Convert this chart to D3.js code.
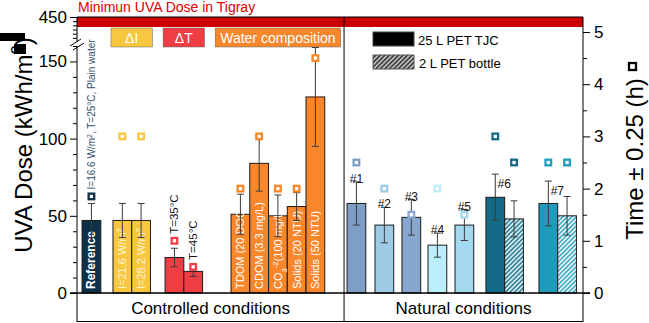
<!DOCTYPE html>
<html>
<head>
<meta charset="utf-8">
<script src="https://cdn.jsdelivr.net/npm/d3@7"></script>
<style>
  body { margin: 0; background: #fff; }
  svg { display: block; font-family: "Liberation Sans", Arial, sans-serif; }
</style>
</head>
<body>
<div id="chart"></div>
<script>
// ---- data ----
const categories = ["Reference", "I=21.6", "I=28.2", "T=35", "T=45", "TDOM", "CDOM", "CO3", "Solids20", "Solids50",
                    "#1", "#2", "#3", "#4", "#5", "#6 TJC", "#6 bottle", "#7 TJC", "#7 bottle"];
const groupOf = ["ref", "dI", "dI", "dT", "dT", "water", "water", "water", "water", "water",
                 "n1", "n2", "n3", "n4", "n5", "n6", "n6", "n7", "n7"];
const doseValues = [47, 47, 47, 23, 14, 51, 84, 50, 56, 127, 58, 44, 49, 31, 44, 62, 48, 58, 50];
const doseErrors = [11, 11, 11, 6, 3.3, 13, 18, 13.5, 9, 32, 14, 11.5, 11.5, 7.8, 10, 15, 11.7, 14.5, 12.5];
const timeValues = [1.85, 3, 3, 1, 0.5, 2, 3, 2, 2, 4.5, 2.5, 2, 1.5, 2, 1.5, 3, 2.5, 2.5, 2.5];
const containerType = ["tjc", "tjc", "tjc", "tjc", "tjc", "tjc", "tjc", "tjc", "tjc", "tjc",
                       "tjc", "tjc", "tjc", "tjc", "tjc", "tjc", "bottle", "tjc", "bottle"];
const doseTicks = [0, 50, 100, 150];
const doseTicksTop = [450];
const timeTicks = [0, 1, 2, 3, 4, 5];
const tigrayMinDose = [426, 450];
const groupHeaders = [["dI", "ΔI"], ["dT", "ΔT"], ["water", "Water composition"]];
const siteLabels = [["n1", "#1"], ["n2", "#2"], ["n3", "#3"], ["n4", "#4"], ["n5", "#5"], ["n6", "#6"], ["n7", "#7"]];

// ---- layout / styles ----
const W = 649, H = 323;
const plotL = 77, plotR = 583, plotT = 17, zeroY = 293, plotB = 322;
const groupGap = { ref: 0.27, dI: 0.65, dT: 0.78, water: 1.52, n1: 1.19, n2: 0.49, n3: 0.44, n4: 0.39, n5: 0.44, n6: 0.65, n7: 0.83 };
const dividerAt = 14.25;
const barColors = ["#0e3048", "#f8c73f", "#f8c73f", "#ef3d44", "#ef3d44", "#f8862b", "#f8862b", "#f8862b", "#f8862b", "#f8862b",
                   "#7d9fc6", "#9dcbe6", "#88a7d0", "#baeefb", "#a3d8ef", "#136a86", "#136a86", "#1f9cbd", "#1f9cbd"];
const headerColors = { dI: "#f8c73f", dT: "#ef3d44", water: "#f8862b" };

// bar position in "bar units"
const pos = [];
let cur = 0, prev = null;
categories.forEach((c, i) => {
  if (groupOf[i] !== prev) { cur += groupGap[groupOf[i]]; prev = groupOf[i]; }
  pos.push(cur);
  cur += 1;
});

const x = d3.scaleLinear().domain([0, 27]).range([plotL, plotR]);
const bw = x(1) - x(0);
const yLow = d3.scaleLinear().domain([0, 160]).range([zeroY, 46]);
const yHigh = d3.scaleLinear().domain([390, 450]).range([42, plotT]);
const yTime = d3.scaleLinear().domain([0, 5]).range([zeroY, 32]);

const svg = d3.select("#chart").append("svg").attr("width", W).attr("height", H);
const defs = svg.append("defs");

function hatch(id, bg, fg) {
  const p = defs.append("pattern").attr("id", id).attr("patternUnits", "userSpaceOnUse")
    .attr("width", 3.2).attr("height", 3.2).attr("patternTransform", "rotate(45)");
  p.append("rect").attr("width", 3.2).attr("height", 3.2).attr("fill", bg);
  p.append("line").attr("x1", 0.8).attr("x2", 0.8).attr("y1", 0).attr("y2", 3.2).attr("stroke", fg).attr("stroke-width", 1.3);
}
hatch("h6", "#d7ebf2", "#136a86");
hatch("h7", "#e6f6fb", "#1f9cbd");
hatch("hl", "#bbbbbb", "#222222");

function fillOf(i) {
  if (containerType[i] === "bottle") return groupOf[i] === "n6" ? "url(#h6)" : "url(#h7)";
  return barColors[i];
}

// red band (minimum dose in Tigray)
svg.append("rect")
  .attr("x", plotL).attr("width", plotR - plotL)
  .attr("y", yHigh(tigrayMinDose[1])).attr("height", yHigh(tigrayMinDose[0]) - yHigh(tigrayMinDose[1]))
  .attr("fill", "#cc0000");
svg.append("text").attr("x", plotL + 1).attr("y", 12).attr("font-size", 14).attr("fill", "#dd0000")
  .text("Minimun UVA Dose in Tigray");

// group header boxes
groupHeaders.forEach(([g, label]) => {
  const idx = d3.range(categories.length).filter(i => groupOf[i] === g);
  const x0 = x(pos[idx[0]]), x1 = x(pos[idx[idx.length - 1]] + 1);
  const t = svg.append("text").attr("font-size", 14).attr("fill", "#fff").attr("text-anchor", "middle")
    .attr("x", (x0 + x1) / 2).attr("y", 43).text(label);
  const tw = t.node().getComputedTextLength();
  const w = Math.max(x1 - x0 + 4, tw + 10);
  svg.insert("rect", "text:last-of-type")
    .attr("x", (x0 + x1) / 2 - w / 2).attr("width", w).attr("y", 28).attr("height", 19)
    .attr("fill", headerColors[g]).attr("stroke", "#666").attr("stroke-width", 0.5);
  t.raise();
});

// bars
svg.append("g").selectAll("rect").data(categories).join("rect")
  .attr("x", (d, i) => x(pos[i])).attr("width", bw)
  .attr("y", (d, i) => yLow(doseValues[i])).attr("height", (d, i) => zeroY - yLow(doseValues[i]))
  .attr("fill", (d, i) => fillOf(i)).attr("stroke", "#1a1a1a").attr("stroke-width", 1);

// labels inside bars
const inner = [
  [0, [["Reference"]], "#fff", "bold", 12],
  [1, [["I=21.6 W/m"], ["2", "sup"]], "#fff6d6", "normal", 11],
  [2, [["I=28.2 W/m"], ["2", "sup"]], "#fff6d6", "normal", 11],
  [5, [["TDOM (20 DOC)"]], "#fff", "normal", 11],
  [6, [["CDOM (3.3 mg/L)"]], "#fff", "normal", 11],
  [7, [["CO"], ["3", "sub"], ["-2", "sup"], ["(100 mg/L)"]], "#fff", "normal", 11],
  [8, [["Solids (20 NTU)"]], "#fff", "normal", 11],
  [9, [["Solids (50 NTU)"]], "#fff", "normal", 11]
];
function richText(sel, parts) {
  parts.forEach(([t, kind]) => {
    const ts = sel.append("tspan").text(t);
    if (kind === "sup") ts.attr("baseline-shift", "super").attr("font-size", "70%");
    if (kind === "sub") ts.attr("baseline-shift", "sub").attr("font-size", "70%");
  });
}
inner.forEach(([i, parts, col, fw, fs]) => {
  const cx = x(pos[i]) + bw / 2 + 4;
  const t = svg.append("text").attr("transform", `translate(${cx},${zeroY - 4}) rotate(-90)`)
    .attr("fill", col).attr("font-weight", fw).attr("font-size", fs);
  richText(t, parts);
});

// error bars
const eb = svg.append("g").attr("stroke", "#3a3a3a").attr("stroke-width", 1);
categories.forEach((c, i) => {
  const cx = x(pos[i]) + bw / 2;
  const y0 = yLow(doseValues[i] - doseErrors[i]), y1 = yLow(doseValues[i] + doseErrors[i]);
  eb.append("line").attr("x1", cx).attr("x2", cx).attr("y1", y0).attr("y2", y1);
  eb.append("line").attr("x1", cx - 3.5).attr("x2", cx + 3.5).attr("y1", y0).attr("y2", y0);
  eb.append("line").attr("x1", cx - 3.5).attr("x2", cx + 3.5).attr("y1", y1).attr("y2", y1);
});

// time markers (right axis)
svg.append("g").selectAll("rect").data(categories).join("rect")
  .attr("x", (d, i) => x(pos[i]) + bw / 2 - 2.8).attr("y", (d, i) => yTime(timeValues[i]) - 2.8)
  .attr("width", 5.6).attr("height", 5.6)
  .attr("fill", "#fff").attr("stroke", (d, i) => barColors[i]).attr("stroke-width", 2.3);

// rotated annotations
function rotText(i, col, fs, shift) {
  const cx = x(pos[i]) + bw / 2 + 4;
  return svg.append("text").attr("transform", `translate(${cx},${yTime(timeValues[i]) - shift}) rotate(-90)`)
    .attr("fill", col).attr("font-size", fs);
}
richText(rotText(0, "#34506c", 10, 7), [["I=16.6 W/m"], ["2", "sup"], [", T=25°C, Plain water"]]);
rotText(3, "#111", 11.5, 7).text("T=35°C");
rotText(4, "#111", 11.5, 7).text("T=45°C");

// site labels
siteLabels.forEach(([g, label]) => {
  const idx = d3.range(categories.length).filter(i => groupOf[i] === g);
  const i = idx[0];
  const twin = idx.length > 1;
  const cx = x(pos[i]) + bw / 2 + (twin ? 9 : 0);
  const ty = yLow(doseValues[i] + doseErrors[i]) + (twin ? 14 : 1);
  svg.append("text").attr("x", cx).attr("y", ty).attr("text-anchor", "middle")
    .attr("font-size", 12).attr("fill", "#111").text(label);
});

// frame
const fr = svg.append("g").attr("stroke", "#000").attr("fill", "none");
fr.append("line").attr("x1", plotL).attr("x2", plotR).attr("y1", plotT).attr("y2", plotT);
fr.append("line").attr("x1", plotR).attr("x2", plotR).attr("y1", plotT).attr("y2", plotB);
fr.append("line").attr("x1", plotL).attr("x2", plotL).attr("y1", plotT).attr("y2", 42);
fr.append("line").attr("x1", plotL).attr("x2", plotL).attr("y1", 46).attr("y2", plotB);
fr.append("line").attr("x1", plotL).attr("x2", plotR).attr("y1", plotB - 0.5).attr("y2", plotB - 0.5);
fr.append("line").attr("x1", x(dividerAt)).attr("x2", x(dividerAt)).attr("y1", plotT).attr("y2", plotB);
fr.append("line").attr("x1", plotL - 7).attr("x2", plotR + 7).attr("y1", zeroY).attr("y2", zeroY).attr("stroke-width", 1.6);
// axis break
fr.append("line").attr("x1", 70).attr("x2", 81).attr("y1", 46).attr("y2", 39);
fr.append("line").attr("x1", 73).attr("x2", 84).attr("y1", 50).attr("y2", 43);

// axes
function styleAxis(g) {
  g.select(".domain").remove();
  g.selectAll("text").attr("font-size", 17).attr("fill", "#000").attr("font-family", "Liberation Sans, Arial, sans-serif");
  g.selectAll("line").attr("stroke", "#000");
}
svg.append("g").attr("transform", `translate(${plotL},0)`)
  .call(d3.axisLeft(yLow).tickValues(doseTicks).tickSize(7).tickPadding(3)).call(styleAxis);
svg.append("g").attr("transform", `translate(${plotL},0)`)
  .call(d3.axisLeft(yLow).tickValues(d3.range(10, 161, 10).filter(v => v % 50)).tickSize(4).tickFormat("")).call(styleAxis);
svg.append("g").attr("transform", `translate(${plotL},0)`)
  .call(d3.axisLeft(yHigh).tickValues(doseTicksTop).tickSize(7).tickPadding(3)).call(styleAxis);
svg.append("g").attr("transform", `translate(${plotL},0)`)
  .call(d3.axisLeft(yHigh).tickValues(d3.range(400, 441, 10)).tickSize(4).tickFormat("")).call(styleAxis);
svg.append("g").attr("transform", `translate(${plotR},0)`)
  .call(d3.axisRight(yTime).tickValues(timeTicks).tickSize(7).tickPadding(4).tickFormat(d3.format("d"))).call(styleAxis);
svg.append("g").attr("transform", `translate(${plotR},0)`)
  .call(d3.axisRight(yTime).tickValues(d3.range(0.5, 5, 1)).tickSize(4).tickFormat("")).call(styleAxis);

// axis titles
const lt = svg.append("text").attr("transform", "translate(32,145) rotate(-90)")
  .attr("text-anchor", "middle").attr("font-size", 24).attr("fill", "#000");
richText(lt, [["UVA Dose (kWh/m"], ["2", "sup"], [")"]]);
svg.append("rect").attr("x", 0).attr("y", 33).attr("width", 25).attr("height", 8).attr("fill", "#000");
svg.append("rect").attr("x", 14).attr("y", 44).attr("width", 12).attr("height", 10).attr("fill", "#000");

svg.append("text").attr("transform", "translate(643,159) rotate(-90)")
  .attr("text-anchor", "middle").attr("font-size", 24).attr("fill", "#000").text("Time ± 0.25 (h)");
svg.append("rect").attr("x", 629).attr("y", 63).attr("width", 7).attr("height", 7)
  .attr("fill", "#fff").attr("stroke", "#000").attr("stroke-width", 2.3);

// condition labels
svg.append("text").attr("x", (plotL + x(dividerAt)) / 2).attr("y", 314).attr("text-anchor", "middle")
  .attr("font-size", 17).text("Controlled conditions");
svg.append("text").attr("x", (x(dividerAt) + plotR) / 2).attr("y", 314).attr("text-anchor", "middle")
  .attr("font-size", 17).text("Natural conditions");

// legend
const lg = svg.append("g");
lg.append("rect").attr("x", 373).attr("y", 32).attr("width", 41).attr("height", 14).attr("fill", "#000").attr("stroke", "#444");
lg.append("text").attr("x", 418).attr("y", 45).attr("font-size", 13).text("25 L PET TJC");
lg.append("rect").attr("x", 373).attr("y", 55).attr("width", 41).attr("height", 14).attr("fill", "url(#hl)").attr("stroke", "#555");
lg.append("text").attr("x", 419).attr("y", 68).attr("font-size", 13).text("2 L PET bottle");
</script>
</body>
</html>
